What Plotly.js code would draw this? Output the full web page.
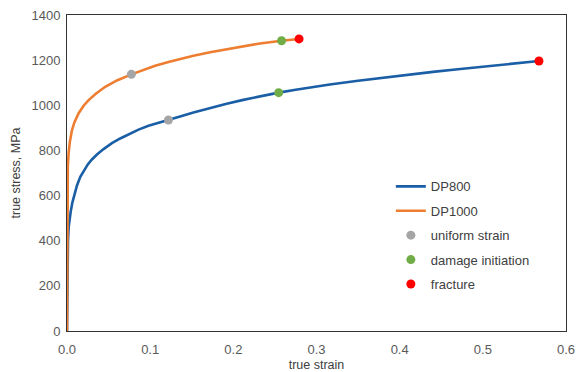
<!DOCTYPE html>
<html>
<head>
<meta charset="utf-8">
<script src="https://cdn.plot.ly/plotly-3.0.1.min.js"></script>
<style>html,body{margin:0;padding:0;background:#fff}#chart{width:583px;height:372px}</style>
</head>
<body>
<div id="chart"></div>
<script>
// DP800 true stress-strain curve
const dp800Strain = [0, 0.0003, 0.0007, 0.0012, 0.002, 0.003, 0.0045, 0.0065, 0.009, 0.012, 0.016, 0.02, 0.025, 0.03, 0.036, 0.044, 0.054, 0.064, 0.074, 0.086, 0.098, 0.11, 0.122, 0.138, 0.152, 0.172, 0.192, 0.212, 0.232, 0.2545, 0.275, 0.292, 0.316, 0.35, 0.38, 0.41, 0.44, 0.47, 0.5, 0.535, 0.5675];
const dp800Stress = [0, 150, 300, 400, 460, 500, 530, 570, 610, 645, 683, 710, 738, 760, 782, 806, 832, 853, 872, 892, 909, 923, 935, 953, 968, 989, 1007, 1024, 1040, 1056, 1069, 1079, 1092, 1109, 1123, 1136, 1148, 1160, 1171, 1184, 1196];
// DP1000 true stress-strain curve
const dp1000Strain = [0, 0.0002, 0.0005, 0.001, 0.002, 0.0035, 0.006, 0.009, 0.014, 0.02, 0.026, 0.035, 0.046, 0.06, 0.0774, 0.092, 0.106, 0.122, 0.138, 0.152, 0.172, 0.192, 0.212, 0.232, 0.258, 0.279];
const dp1000Stress = [0, 300, 600, 730, 790, 840, 890, 925, 965, 998, 1023, 1052, 1082, 1110, 1137, 1158, 1175, 1192, 1207, 1219, 1235, 1249, 1262, 1274, 1286, 1294];
// Special points: [DP800, DP1000]
const uniformStrain = [0.122, 0.0774];
const uniformStress = [935, 1137];
const damageStrain = [0.2545, 0.258];
const damageStress = [1056, 1286];
const fractureStrain = [0.5675, 0.279];
const fractureStress = [1196, 1294];
const xTicks = [0, 0.1, 0.2, 0.3, 0.4, 0.5, 0.6];
const yTicks = [0, 200, 400, 600, 800, 1000, 1200, 1400];

const fam = 'Liberation Sans, Arial, sans-serif';
const tickFont = {family: fam, size: 13, color: '#595959'};
const titleFont = {family: fam, size: 12.5, color: '#404040'};
const legFont = {family: fam, size: 13, color: '#404040'};
const traces = [
  {x: dp800Strain, y: dp800Stress, mode: 'lines', name: 'DP800', legendgroup: 'a', line: {color: '#1A5EA6', width: 2.6}},
  {x: dp1000Strain, y: dp1000Stress, mode: 'lines', name: 'DP1000', legendgroup: 'b', line: {color: '#ED7D31', width: 2.6}},
  {x: uniformStrain, y: uniformStress, mode: 'markers', name: 'uniform strain', legendgroup: 'c', marker: {color: '#A5A5A5', size: 9}},
  {x: damageStrain, y: damageStress, mode: 'markers', name: 'damage initiation', legendgroup: 'd', marker: {color: '#70AD47', size: 9}},
  {x: fractureStrain, y: fractureStress, mode: 'markers', name: 'fracture', legendgroup: 'e', marker: {color: '#FF0000', size: 9}}
];
const layout = {
  width: 583, height: 372,
  margin: {l: 67, r: 17, t: 15, b: 41},
  paper_bgcolor: '#fff', plot_bgcolor: '#fff',
  font: legFont,
  showlegend: true,
  legend: {x: 0.649, y: 0.505, xanchor: 'left', yanchor: 'top', font: legFont, tracegroupgap: 4.5, itemwidth: 30, bgcolor: 'rgba(0,0,0,0)'},
  xaxis: {range: [0, 0.6], tickvals: xTicks, tickformat: '.1f', showgrid: false, zeroline: false,
    showline: true, mirror: true, linecolor: '#333', linewidth: 1, ticks: '', ticklen: 0, ticklabelstandoff: 6,
    title: {text: 'true strain', font: titleFont, standoff: 4}, tickfont: tickFont},
  yaxis: {range: [0, 1400], tickvals: yTicks, showgrid: false, zeroline: false,
    showline: true, mirror: true, linecolor: '#333', linewidth: 1, ticks: '', ticklen: 0, ticklabelstandoff: 3,
    title: {text: 'true stress, MPa', font: titleFont, standoff: 8}, tickfont: tickFont}
};
Plotly.newPlot('chart', traces, layout, {displayModeBar: false, staticPlot: true});
</script>
</body>
</html>
